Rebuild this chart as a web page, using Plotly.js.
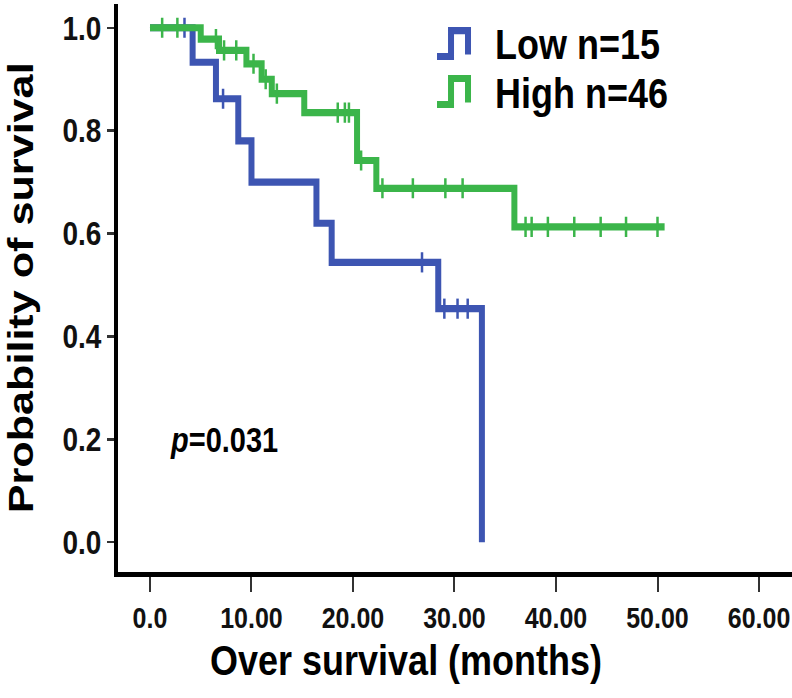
<!DOCTYPE html>
<html>
<head>
<meta charset="utf-8">
<script src="https://cdn.plot.ly/plotly-3.0.1.min.js"></script>
<style>
html,body{margin:0;padding:0;background:#fff;}
#wrap{width:792px;height:698px;overflow:hidden;}
#plot{width:792px;height:582px;transform:scaleY(1.19931);transform-origin:0 0;}
</style>
</head>
<body>
<div id="wrap"><div id="plot"></div></div>
<script>
// ---- data ----
const lowTimes   = [4.2, 6.5, 8.7, 10.0, 16.4, 17.9, 28.4, 32.7];
const lowSurv    = [0.933, 0.862, 0.78, 0.70, 0.62, 0.544, 0.454, 0.0];
const lowCensor  = [3.4, 7.2, 26.8, 29.0, 30.3, 31.3];
const lowEnd     = 32.7;

const highTimes  = [5.0, 6.8, 9.5, 11.0, 12.0, 15.2, 20.4, 22.3, 35.9];
const highSurv   = [0.978, 0.956, 0.93, 0.90, 0.872, 0.835, 0.742, 0.688, 0.613];
const highCensor = [1.2, 2.7, 6.5, 7.3, 8.5, 10.2, 11.4, 12.5, 18.5, 19.2, 19.6, 20.8,
                    22.9, 25.9, 29.1, 30.8, 37.0, 37.6, 39.2, 41.8, 44.4, 46.9, 50.0];
const highEnd    = 50.7;

const xTickVals  = [0, 10, 20, 30, 40, 50, 60];
const xTickText  = ["0.0", "10.00", "20.00", "30.00", "40.00", "50.00", "60.00"];
const yTickVals  = [0, 0.2, 0.4, 0.6, 0.8, 1.0];
const yTickText  = ["0.0", "0.2", "0.4", "0.6", "0.8", "1.0"];

const groupNames = ["Low n=15", "High n=46"];
const pText = "<i>p</i>=0.031";

// ---- helpers ----
function stepXY(times, surv, end) {
  const x = [0], y = [1];
  times.forEach((t, i) => { x.push(t); y.push(surv[i]); });
  if (end > x[x.length - 1]) { x.push(end); y.push(y[y.length - 1]); }
  return {x, y};
}
function survAt(times, surv, t) {
  let s = 1;
  times.forEach((tt, i) => { if (tt <= t) s = surv[i]; });
  return s;
}

const BLUE = "#3d55b2", GREEN = "#3bb54a";
const F = "Liberation Sans, Arial, sans-serif";

const lowLine = stepXY(lowTimes, lowSurv, lowEnd);
const highLine = stepXY(highTimes, highSurv, highEnd);

const traces = [
  {x: lowLine.x, y: lowLine.y, mode: "lines", line: {shape: "hv", color: BLUE, width: 6}, name: groupNames[0], showlegend: false, hoverinfo: "skip"},
  {x: lowCensor, y: lowCensor.map(t => survAt(lowTimes, lowSurv, t)), mode: "markers",
   marker: {symbol: "line-ns", size: 12, line: {color: BLUE, width: 2.5}}, showlegend: false, hoverinfo: "skip"},
  {x: highLine.x, y: highLine.y, mode: "lines", line: {shape: "hv", color: GREEN, width: 6}, name: groupNames[1], showlegend: false, hoverinfo: "skip"},
  {x: highCensor, y: highCensor.map(t => survAt(highTimes, highSurv, t)), mode: "markers",
   marker: {symbol: "line-ns", size: 12, line: {color: GREEN, width: 2.5}}, showlegend: false, hoverinfo: "skip"}
];

// legend icons (paper coords)
function icon(yBot, yTop, yEnd, color) {
  return {type: "path", xref: "paper", yref: "paper",
    path: `M 0.4733 ${yBot} L 0.4941 ${yBot} L 0.4941 ${yTop} L 0.5193 ${yTop} L 0.5193 ${yEnd}`,
    line: {color: color, width: 6}};
}

const layout = {
  width: 792, height: 582,
  margin: {l: 118, r: 0, t: 2.5, b: 105},
  paper_bgcolor: "#fff", plot_bgcolor: "#fff",
  showlegend: false,
  font: {family: F, color: "#000"},
  xaxis: {
    range: [-3.15, 63.25], tickvals: xTickVals, ticktext: xTickText,
    showline: true, linecolor: "#000", linewidth: 4, showgrid: false, zeroline: false,
    ticks: "outside", ticklen: 13, tickwidth: 2, tickcolor: "#333",
    ticklabeloverflow: "allow",
    tickfont: {family: F, size: 25, weight: "bold", color: "#111"}
  },
  yaxis: {
    range: [-0.058, 1.047], tickvals: yTickVals, ticktext: yTickText,
    showline: true, linecolor: "#000", linewidth: 4, showgrid: false, zeroline: false,
    ticks: "outside", ticklen: 7, tickwidth: 2, tickcolor: "#333",
    tickfont: {family: F, size: 28, weight: "bold", color: "#111"},
    title: {text: "Probability of survival", font: {family: F, size: 36, weight: "bold", color: "#000"}, standoff: 22}
  },
  shapes: [icon(0.9069, 0.9525, 0.9104, BLUE), icon(0.8225, 0.8682, 0.8260, GREEN)],
  annotations: [
    {text: "Over survival (months)", xref: "paper", yref: "paper", x: 0.427, y: -0.1547,
     xanchor: "center", yanchor: "middle", showarrow: false,
     font: {family: F, size: 36, weight: "bold", color: "#000"}},
    {text: groupNames[0], xref: "paper", yref: "paper", x: 0.556, y: 0.93,
     xanchor: "left", yanchor: "middle", showarrow: false,
     font: {family: F, size: 36, weight: "bold", color: "#000"}},
    {text: groupNames[1], xref: "paper", yref: "paper", x: 0.556, y: 0.8436,
     xanchor: "left", yanchor: "middle", showarrow: false,
     font: {family: F, size: 36, weight: "bold", color: "#000"}},
    {text: pText, xref: "paper", yref: "paper", x: 0.074, y: 0.232,
     xanchor: "left", yanchor: "middle", showarrow: false,
     font: {family: F, size: 29, weight: "bold", color: "#000"}}
  ]
};

Plotly.newPlot("plot", traces, layout, {displayModeBar: false, staticPlot: true});
</script>
</body>
</html>
